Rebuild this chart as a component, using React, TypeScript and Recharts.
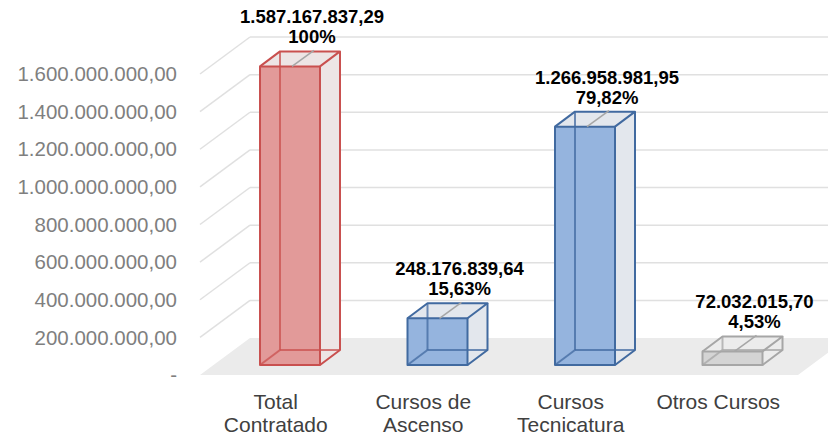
import { Bar, BarChart, CartesianGrid, XAxis, YAxis } from "recharts";

const categories = ["Total Contratado", "Cursos de Ascenso", "Cursos Tecnicatura", "Otros Cursos"];
const categoryLines = [["Total", "Contratado"], ["Cursos de", "Ascenso"], ["Cursos", "Tecnicatura"], ["Otros Cursos"]];
const amounts = [1587167837.29, 248176839.64, 1266958981.95, 72032015.7];
const percents = ["100%", "15,63%", "79,82%", "4,53%"];
const yTicks = [0, 200000000, 400000000, 600000000, 800000000, 1000000000, 1200000000, 1400000000, 1600000000];

const chartData = categories.map((name, i) => ({
  name,
  lines: categoryLines[i],
  amount: amounts[i],
  pct: percents[i],
}));

// look of each box, by category
const palettes = [
  { stroke: "#c9504f", front: "#e29a99", side: "#ede5e5" },
  { stroke: "#416aa0", front: "#95b4de", side: "#e3e7ed" },
  { stroke: "#416aa0", front: "#95b4de", side: "#e3e7ed" },
  { stroke: "#a6a6a6", front: "#d4d4d4", side: "#ececec" },
];

const W = 828;
const H = 436;
const PLOT_BOTTOM = 365;
const DX = 20; // bar depth
const DY = -15;
const FLOOR_DX = 50; // floor / wall depth
const FLOOR_DY = -37;
const WALL_X = 200;
const FONT = "'Liberation Sans', Arial, sans-serif";

const fmt = (v: number) =>
  v.toLocaleString("de-DE", { minimumFractionDigits: 2, maximumFractionDigits: 2 });

function GridLine(props: any) {
  const { y1 } = props;
  const front = y1 + 10;
  const back = front + FLOOR_DY;
  const isZero = Math.abs(y1 - PLOT_BOTTOM) < 2;
  if (isZero) {
    const pts = [
      [WALL_X, front],
      [WALL_X + FLOOR_DX, back],
      [W + 20, back],
      [W + 20 - FLOOR_DX, front],
    ];
    return <polygon points={pts.map((p) => p.join(",")).join(" ")} fill="#ebebeb" />;
  }
  return (
    <g>
      <line x1={WALL_X} y1={front} x2={WALL_X + FLOOR_DX} y2={back} stroke="#e0e0e0" strokeWidth={1.5} />
      <line x1={WALL_X + FLOOR_DX} y1={back} x2={W} y2={back} stroke="#e0e0e0" strokeWidth={1.5} />
    </g>
  );
}

function Box(props: any) {
  const { x, y, width: w, height: h, payload } = props;
  const idx = props.index ?? categories.indexOf(payload?.name);
  const p = palettes[idx] || palettes[0];
  const b = y + h;
  const poly = (pts: number[][]) => pts.map((q) => q.join(",")).join(" ");
  const cx = x + w / 2;
  const labelX = cx + DX + 2;
  return (
    <g>
      {/* right side and top */}
      <polygon points={poly([[x + w, y], [x + w + DX, y + DY], [x + w + DX, b + DY], [x + w, b]])} fill={p.side} />
      <polygon points={poly([[x, y], [x + DX, y + DY], [x + w + DX, y + DY], [x + w, y]])} fill={p.side} />
      {/* front */}
      <rect x={x} y={y} width={w} height={h} fill={p.front} />
      {/* hidden edges */}
      <g stroke={p.stroke} strokeWidth={2} strokeOpacity={0.75} fill="none">
        <line x1={x + DX} y1={y + DY} x2={x + DX} y2={b + DY} />
        <line x1={x + DX} y1={b + DY} x2={x + w + DX} y2={b + DY} />
        <line x1={x} y1={b} x2={x + DX} y2={b + DY} />
      </g>
      {/* visible edges */}
      <g stroke={p.stroke} strokeWidth={2} fill="none" strokeLinejoin="round">
        <rect x={x} y={y} width={w} height={h} />
        <polyline points={poly([[x, y], [x + DX, y + DY], [x + w + DX, y + DY], [x + w, y]])} />
        <polyline points={poly([[x + w + DX, y + DY], [x + w + DX, b + DY], [x + w, b]])} />
      </g>
      {/* leader line */}
      <line x1={cx + 2} y1={y} x2={cx + DX + 4} y2={y + DY - 1} stroke="#a6a6a6" strokeWidth={1.5} />
      <text x={labelX} y={y + DY - 28} textAnchor="middle" fontFamily={FONT} fontWeight="bold" fontSize={18.5} fill="#000">
        {fmt(payload.amount)}
      </text>
      <text x={labelX} y={y + DY - 8} textAnchor="middle" fontFamily={FONT} fontWeight="bold" fontSize={18.5} fill="#000">
        {payload.pct}
      </text>
    </g>
  );
}

function YTick(props: any) {
  const { y, payload } = props;
  const v = payload.value as number;
  return (
    <text x={177} y={y + 10} dy="0.35em" textAnchor="end" fontFamily={FONT} fontSize={20.5} fill="#7f7f7f">
      {v === 0 ? "-" : fmt(v)}
    </text>
  );
}

function XTick(props: any) {
  const { x, index } = props;
  const lines = chartData[index]?.lines || [];
  return (
    <text textAnchor="middle" fontFamily={FONT} fontSize={21} fill="#404040">
      {lines.map((l: string, i: number) => (
        <tspan key={i} x={x - 14} y={409 + i * 23}>
          {l}
        </tspan>
      ))}
    </text>
  );
}

export default function App() {
  return (
    <div style={{ position: "absolute", left: 0, top: 0, background: "#fff" }}>
      <BarChart width={W} height={H} data={chartData} margin={{ top: 64, right: 22, bottom: 0, left: 0 }}>
        <CartesianGrid vertical={false} horizontal={(p: any) => <GridLine key={p.key} {...p} />} />
        <XAxis dataKey="name" axisLine={false} tickLine={false} interval={0} height={71} tick={<XTick />} />
        <YAxis
          type="number"
          domain={[0, 1600000000]}
          ticks={yTicks}
          axisLine={false}
          tickLine={false}
          width={216}
          tick={<YTick />}
        />
        <Bar dataKey="amount" barSize={60} isAnimationActive={false} shape={(p: any) => <Box {...p} />} />
      </BarChart>
    </div>
  );
}
